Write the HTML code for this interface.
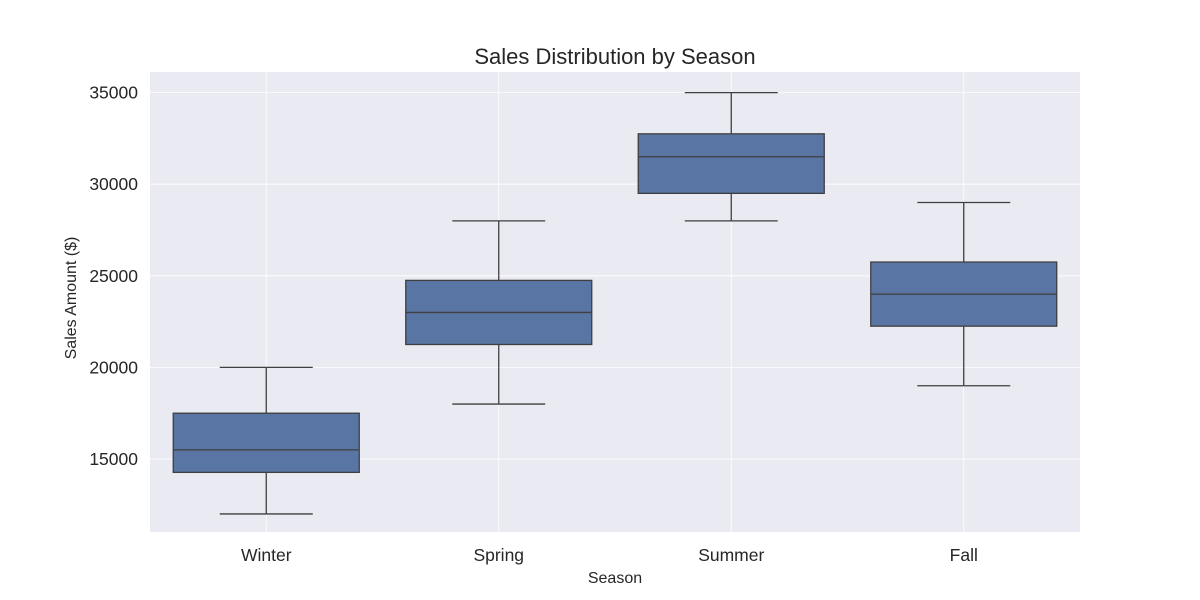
<!DOCTYPE html>
<html><head><meta charset="utf-8"><style>
body{margin:0;background:#fff;}
svg{display:block;font-family:"Liberation Sans",Arial,sans-serif;}
</style></head><body>
<svg id="chart" width="1200" height="600"></svg>
<script>
const categories=["Winter","Spring","Summer","Fall"];
const whiskerLow=[12000,18000,28000,19000];
const q1Values=[14270,21250,29500,22250];
const medians=[15500,23000,31500,24000];
const q3Values=[17500,24750,32750,25750];
const whiskerHigh=[20000,28000,35000,29000];
const yTicks=[15000,20000,25000,30000,35000];

const NS="http://www.w3.org/2000/svg";
const svg=document.getElementById("chart");
const L=150,R=1080,T=72,B=532;
const yScale=v=>459-(v-15000)*91.6/5000;
const band=(R-L)/categories.length;
const xScale=i=>L+band*(i+0.5);
function mk(tag,attrs,parent){const e=document.createElementNS(NS,tag);for(const k in attrs)e.setAttribute(k,attrs[k]);(parent||svg).appendChild(e);return e;}

const bg=mk("rect",{x:L,y:T,width:R-L,height:B-T,fill:"#eaeaf2"});



yTicks.forEach(t=>{
  const y=yScale(t);
  const g=mk("line",{x1:L,x2:R,y1:y,y2:y,stroke:"#fff","stroke-width":0.8});
  
  
  const lb=mk("text",{x:L-12,y:y+6,"text-anchor":"end","font-size":17.5,fill:"#262626"});
  lb.textContent=t;
  
  
});
categories.forEach((c,i)=>{
  const x=xScale(i);
  const g=mk("line",{x1:x,x2:x,y1:T,y2:B,stroke:"#fff","stroke-width":0.8});
  
  
});

categories.forEach((c,i)=>{
  const x=xScale(i),bw=band*0.8,cw=bw/2;
  const grp=mk("g",{});
  
  
  const st={stroke:"#3f3f3f","stroke-width":1.3};
  mk("line",Object.assign({x1:x,x2:x,y1:yScale(whiskerLow[i]),y2:yScale(q1Values[i])},st),grp);
  mk("line",Object.assign({x1:x,x2:x,y1:yScale(q3Values[i]),y2:yScale(whiskerHigh[i])},st),grp);
  mk("line",Object.assign({x1:x-cw/2,x2:x+cw/2,y1:yScale(whiskerLow[i]),y2:yScale(whiskerLow[i])},st),grp);
  mk("line",Object.assign({x1:x-cw/2,x2:x+cw/2,y1:yScale(whiskerHigh[i]),y2:yScale(whiskerHigh[i])},st),grp);
  mk("rect",Object.assign({x:x-bw/2,y:yScale(q3Values[i]),width:bw,height:yScale(q1Values[i])-yScale(q3Values[i]),fill:"#5875a4"},st),grp);
  mk("line",Object.assign({x1:x-bw/2,x2:x+bw/2,y1:yScale(medians[i]),y2:yScale(medians[i])},st),grp);
  const lb=mk("text",{x:x,y:561,"text-anchor":"middle","font-size":17.5,fill:"#262626"});
  lb.textContent=c;
  
  
});

const title=mk("text",{x:(L+R)/2,y:64,"text-anchor":"middle","font-size":22,fill:"#262626"});
title.textContent="Sales Distribution by Season";


const xt=mk("text",{x:(L+R)/2,y:583,"text-anchor":"middle","font-size":16,fill:"#262626"});
xt.textContent="Season";


const yt=mk("text",{x:76,y:(T+B)/2-4,"text-anchor":"middle","font-size":16,fill:"#262626",transform:"rotate(-90 76 "+((T+B)/2-4)+")"});
yt.textContent="Sales Amount ($)";


</script>
</body></html>
